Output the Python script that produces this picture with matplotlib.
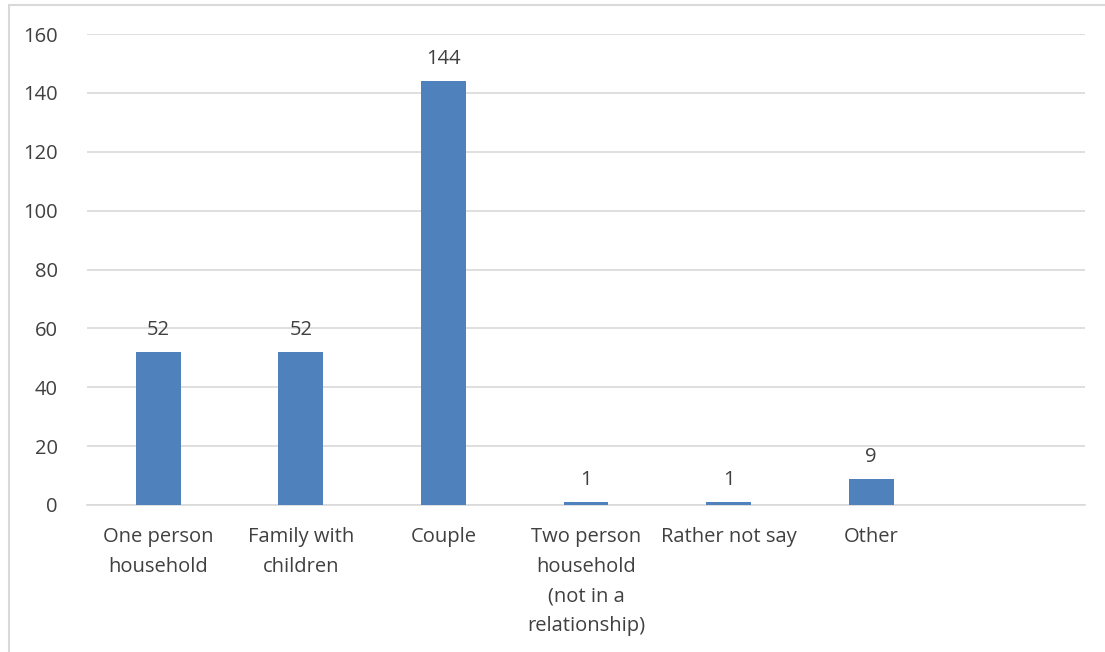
import matplotlib.pyplot as plt
from matplotlib.patches import Rectangle

categories = ["One person\nhousehold", "Family with\nchildren", "Couple",
              "Two person\nhousehold\n(not in a\nrelationship)",
              "Rather not say", "Other", ""]
values = [52, 52, 144, 1, 1, 9, None]
y_ticks = [0, 20, 40, 60, 80, 100, 120, 140, 160]

plt.rcParams['font.family'] = ['Open Sans', 'DejaVu Sans']
text_color = "#404040"
fs = 14.5

fig = plt.figure(figsize=(11.05, 6.52), dpi=100)
ax = fig.add_axes([87 / 1105, 147 / 652, (1085 - 87) / 1105, (505 - 34) / 652])

# figure frame
fig.patches.append(Rectangle((9 / 1105, -0.1), 1.2, (647 / 652) + 0.1,
                             transform=fig.transFigure, fill=False,
                             edgecolor="#D9D9D9", linewidth=1.5))

xs = list(range(len(categories)))
bar_x = [x for x, v in zip(xs, values) if v is not None]
bar_v = [v for v in values if v is not None]
bars = ax.bar(bar_x, bar_v, width=0.315, color="#4F81BD", zorder=3)

for x, v in zip(bar_x, bar_v):
    ax.text(x, v + 4, str(v), ha="center", va="bottom", fontsize=fs, color=text_color)

ax.set_xlim(-0.5, len(categories) - 0.5)
ax.set_ylim(0, 160)
ax.set_yticks(y_ticks)
ax.set_yticklabels([str(t) for t in y_ticks], fontsize=fs, color=text_color)
ax.set_xticks(xs)
ax.set_xticklabels(categories, fontsize=fs, color=text_color, linespacing=1.65)
ax.tick_params(axis="both", length=0)
ax.tick_params(axis="y", pad=21)
ax.tick_params(axis="x", pad=16)

ax.grid(axis="y", color="#D9D9D9", linewidth=1.2, zorder=0)
for side in ["top", "right", "left"]:
    ax.spines[side].set_visible(False)
ax.spines["bottom"].set_color("#D9D9D9")
ax.spines["bottom"].set_linewidth(1.2)

fig.savefig("out.png", dpi=100)
